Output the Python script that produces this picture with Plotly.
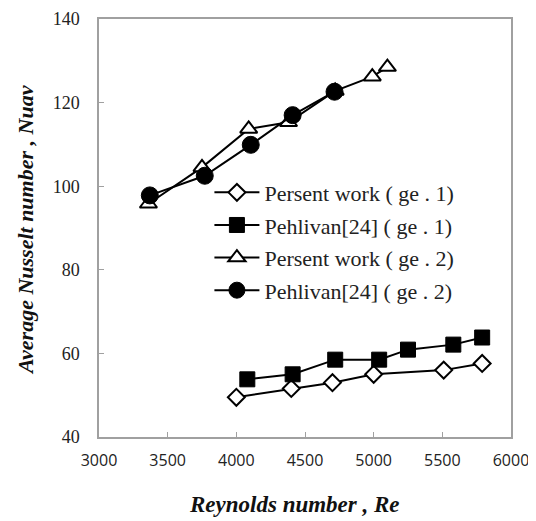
import plotly.graph_objects as go

# ge.1 data
re_pw1 = [4000, 4400, 4700, 5000, 5510, 5790]
nu_pw1 = [49.5, 51.6, 53.0, 55.0, 56.0, 57.6]
re_ph1 = [4080, 4410, 4720, 5040, 5250, 5580, 5790]
nu_ph1 = [53.8, 55.0, 58.5, 58.5, 60.9, 62.1, 63.8]
# ge.2 data
re_pw2 = [3360, 3750, 4090, 4380, 4720, 4990, 5100]
nu_pw2 = [95.8, 104.5, 113.7, 115.3, 122.8, 126.2, 128.5]
re_ph2 = [3370, 3770, 4105, 4410, 4715]
nu_ph2 = [97.8, 102.5, 109.9, 117.0, 122.6]

names = ["Persent work ( ge . 1)", "Pehlivan[24] ( ge . 1)",
         "Persent work ( ge . 2)", "Pehlivan[24] ( ge . 2)"]
x_title = "Reynolds number , Re"
y_title = "Average Nusselt number , Nuav"

serif = "Liberation Serif"
fig = go.Figure()
line = dict(color="black", width=2)
fig.add_trace(go.Scatter(x=re_pw1, y=nu_pw1, name=names[0], mode="lines+markers", line=line, legendgroup="a",
                         marker=dict(symbol="diamond", size=13, color="white", line=dict(color="black", width=2))))
fig.add_trace(go.Scatter(x=re_ph1, y=nu_ph1, name=names[1], mode="lines+markers", line=line, legendgroup="b",
                         marker=dict(symbol="square", size=15, color="black", line=dict(color="black", width=1))))
fig.add_trace(go.Scatter(x=re_pw2, y=nu_pw2, name=names[2], mode="lines+markers", line=line, legendgroup="c",
                         marker=dict(symbol="triangle-up", size=15, color="white", line=dict(color="black", width=2))))
fig.add_trace(go.Scatter(x=re_ph2, y=nu_ph2, name=names[3], mode="lines+markers", line=line, legendgroup="d",
                         marker=dict(symbol="circle", size=17, color="black", line=dict(color="black", width=1))))

fig.update_layout(
    width=528, height=513,
    margin=dict(l=91, r=25, t=11, b=84, autoexpand=False),
    paper_bgcolor="white", plot_bgcolor="white",
    showlegend=True,
    legend=dict(x=0.268, y=0.635, xanchor="left", yanchor="top",
                font=dict(family=serif, size=22, color="#222"),
                bgcolor="rgba(0,0,0,0)", tracegroupgap=1, itemwidth=45),
    xaxis=dict(range=[3000, 6000], dtick=500, showgrid=False, zeroline=False, automargin=False,
               showline=True, linecolor="#a0a0a0", linewidth=1.5, mirror=True,
               ticks="inside", ticklen=5, tickcolor="#a0a0a0",
               tickfont=dict(family="Open Sans", size=16, color="#222"),
               ticklabelstandoff=8),
    yaxis=dict(range=[40, 140], dtick=20, showgrid=False, zeroline=False, automargin=False,
               showline=True, linecolor="#a0a0a0", linewidth=1.5, mirror=True,
               ticks="inside", ticklen=5, tickcolor="#a0a0a0",
               tickfont=dict(family=serif, size=18, color="#222"),
               ticklabelstandoff=14),
    annotations=[
        dict(text="<b><i>" + x_title + "</i></b>", xref="paper", yref="paper",
             x=(294 - 99) / 412, y=-(519 - 437) / 418, xanchor="center", yanchor="bottom",
             showarrow=False, font=dict(family=serif, size=23, color="#111")),
        dict(text="<b><i>" + y_title + "</i></b>", xref="paper", yref="paper", textangle=-90,
             x=-(99 - 25) / 412, y=(437 - 230) / 418, xanchor="center", yanchor="middle",
             showarrow=False, font=dict(family=serif, size=22, color="#111")),
    ],
)
fig.write_html("out.html")
